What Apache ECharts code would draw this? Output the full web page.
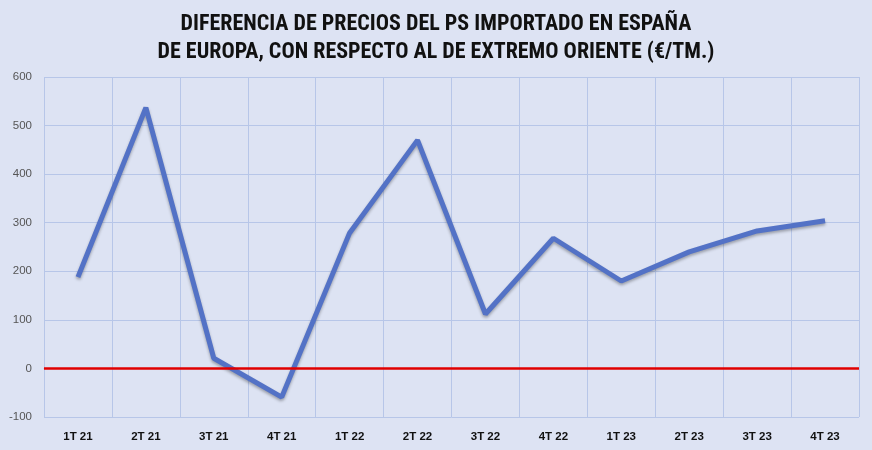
<!DOCTYPE html>
<html><head><meta charset="utf-8">
<script src="https://cdn.jsdelivr.net/npm/echarts@6/dist/echarts.min.js"></script>
<style>html,body{margin:0;padding:0;background:#DDE3F3;}#c{width:872px;height:450px;}</style>
</head><body><div id="c"></div>
<script>
const categories = ['1T 21','2T 21','3T 21','4T 21','1T 22','2T 22','3T 22','4T 22','1T 23','2T 23','3T 23','4T 23'];
const values = [188, 537, 21, -59, 279, 470, 112, 268, 180, 240, 283, 304];
const titleLines = ['DIFERENCIA DE PRECIOS DEL PS IMPORTADO EN ESPAÑA', 'DE EUROPA, CON RESPECTO AL DE EXTREMO ORIENTE (€/TM.)'];
const chart = echarts.init(document.getElementById('c'));
const gridColor = '#B7C6E8';
chart.setOption({
  backgroundColor: '#DDE3F3',
  animation: false,
  title: {
    text: titleLines.join('\n'),
    left: 'center', top: 5,
    textStyle: {fontFamily: 'Liberation Sans Narrow, Roboto Condensed, Liberation Sans', fontSize: 22, fontWeight: 'bold', color: '#111', lineHeight: 28}
  },
  grid: {left: 44, right: 13, top: 77, bottom: 33},
  xAxis: {
    type: 'category', data: categories, boundaryGap: true,
    axisLine: {show: true, lineStyle: {color: gridColor, width: 1}},
    axisTick: {show: false},
    splitLine: {show: true, lineStyle: {color: gridColor, width: 1}},
    axisLabel: {color: '#111', fontWeight: 'bold', fontSize: 11.5, fontFamily: 'Liberation Sans', margin: 14}
  },
  yAxis: {
    type: 'value', min: -100, max: 600, interval: 100,
    axisLine: {show: false}, axisTick: {show: false},
    splitLine: {show: true, lineStyle: {color: gridColor, width: 1}},
    axisLabel: {color: '#555', fontSize: 11.5, fontFamily: 'Liberation Sans', margin: 12}
  },
  series: [{
    type: 'line', data: values, symbol: 'none',
    lineStyle: {color: '#5372C6', width: 5, shadowColor: 'rgba(0,0,0,0.3)', shadowBlur: 3, shadowOffsetY: 2},
    markLine: {
      silent: true, symbol: 'none', label: {show: false},
      lineStyle: {color: '#E00000', width: 2.5, type: 'solid'},
      data: [{yAxis: 0}]
    },
    z: 3
  }]
});
</script></body></html>
